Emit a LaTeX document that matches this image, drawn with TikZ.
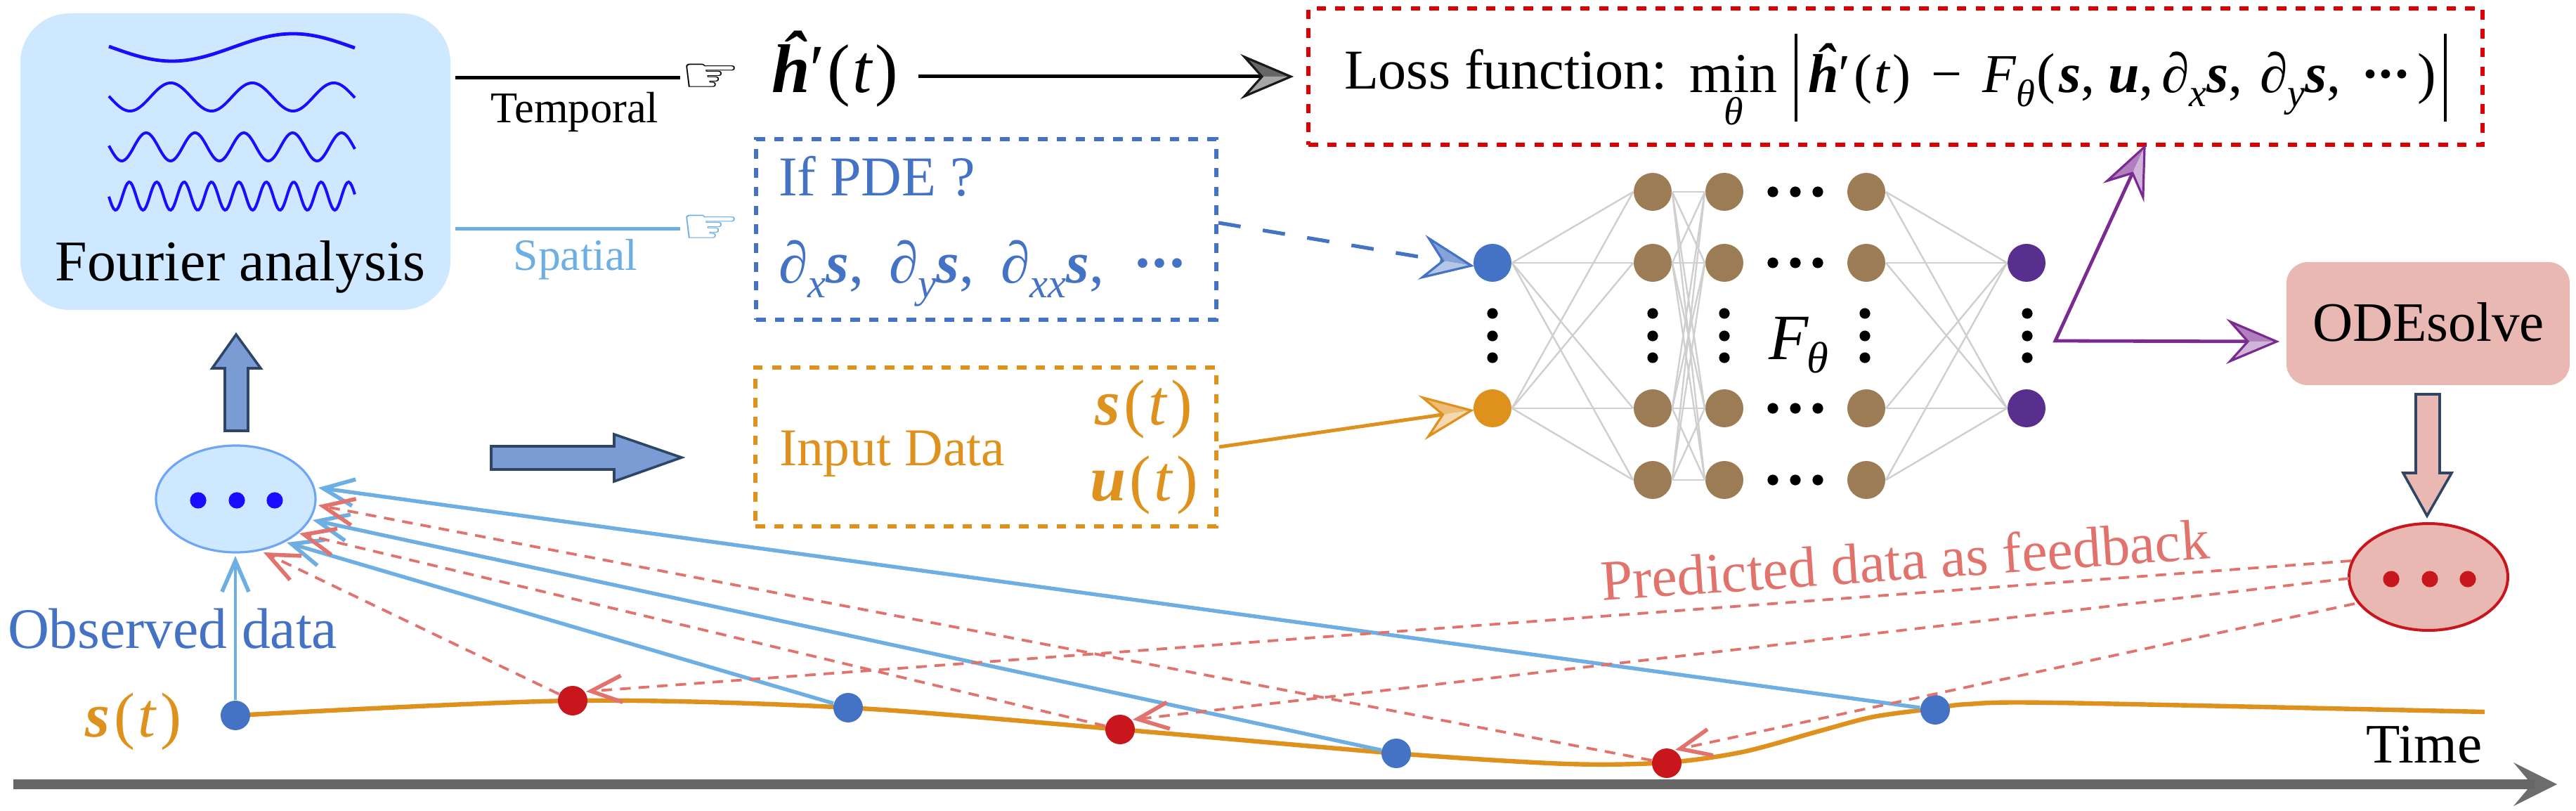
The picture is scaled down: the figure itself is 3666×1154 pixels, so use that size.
\documentclass[tikz,border=0pt]{standalone}
\usepackage{graphicx}
\usepackage{fontspec}
\setmainfont{Liberation Serif}
\newfontfamily\handfont{DejaVu Sans}
\usetikzlibrary{arrows.meta,calc,shapes.geometric}
\definecolor{cBlue}{HTML}{4472C4}
\definecolor{cOrange}{HTML}{DE911C}
\definecolor{cBrown}{HTML}{9C7C54}
\definecolor{cPurpleN}{HTML}{582E8E}
\definecolor{cPurple}{HTML}{7B2A92}
\definecolor{cSky}{HTML}{6DAEE3}
\definecolor{cPale}{HTML}{CDE8FF}
\definecolor{cEdgePale}{HTML}{6EA6F5}
\definecolor{cWave}{HTML}{1A0DFF}
\definecolor{cRed}{HTML}{C8161C}
\definecolor{cLossRed}{HTML}{DE0000}
\definecolor{cSalmon}{HTML}{E2736C}
\definecolor{cPink}{HTML}{EAB8B3}
\definecolor{cSlate}{HTML}{2F4565}
\definecolor{cBlockBlue}{HTML}{7A9BD3}
\definecolor{cGrey}{HTML}{CFCFCF}
\definecolor{cAxis}{HTML}{666666}
\newcommand\fz[1]{\fontsize{#1}{#1}\selectfont}
\newcommand\bi[1]{\textbf{\textit{#1}}}
\newcommand\sbs[1]{\raisebox{-.25em}{\scalebox{.7}{\itshape #1}}}
\newcommand\middots{\textbf{·\kern-.04em·\kern-.04em·}}
\newcommand\handglyph{\scalebox{1}[.74]{\resizebox{21.5pt}{!}{\handfont ☞}}}
% two-tone arrow head: from, tip, dark, light, outline
\newcommand\twotone[5]{%
  \coordinate (hb) at ($(#2)!16.5pt!(#1)$);
  \coordinate (hn) at ($(#2)!10.25pt!(#1)$);
  \coordinate (hl) at ($(hb)!7pt!90:(#2)$);
  \coordinate (hr) at ($(hb)!7pt!-90:(#2)$);
  \fill[#3] (#2) -- (hl) -- (hn) -- cycle;
  \fill[#4] (#2) -- (hr) -- (hn) -- cycle;
  \draw[#5,line width=.8pt,miter limit=10] (#2) -- (hl) -- (hn) -- (hr) -- cycle;
}
\tikzset{
  x=.25pt,y=-.25pt,
  txt/.style={inner sep=0,outer sep=0,anchor=base west},
  dbox/.style={rectangle,inner sep=0,line width=1.5pt,dash pattern=on 3.4pt off 3.3pt},
  nn/.style={circle,inner sep=0,minimum size=13.5pt,fill=#1},
  dotb/.style={circle,inner sep=0,minimum size=3.8pt,fill=black},
  dott/.style={circle,inner sep=0,minimum size=5.8pt,fill=#1},
  edge/.style={cGrey,line width=.6pt},
  wave/.style={cWave,line width=1pt,samples=160,domain=155:505},
  ptd/.style={circle,inner sep=0,minimum size=10.5pt,fill=#1},
  blk/.style={cSlate,line width=.9pt,line join=miter},
  obsline/.style={cSky,line width=1.35pt,-{Straight Barb[length=11pt,width=9.5pt,line width=1.4pt]}},
  predline/.style={cSalmon,line width=.95pt,dash pattern=on 3.8pt off 2.8pt,-{Straight Barb[length=11pt,width=9.5pt,line width=1.4pt]}},
}
\begin{document}
\begin{tikzpicture}
\useasboundingbox (0,0) rectangle (3666,1154);
\fill[white] (0,0) rectangle (3666,1154);

% ---- Fourier box
\node[rectangle,inner sep=0,fill=cPale,rounded corners=17.5pt,minimum width=153pt,minimum height=105.5pt] (fourier) at (335,230) {};
\draw[wave,line width=1.2pt] plot (\x,{67.5-19.5*cos((\x-417)/344*360)});
\draw[wave] plot (\x,{138-20*cos((\x-243)/116*360)});
\draw[wave] plot (\x,{209-20*cos((\x-208)/69.5*360)});
\draw[wave] plot (\x,{279-20*cos((\x-184)/39*360)});
\node[txt,anchor=base] (fourierlab) at (342,400) {\fz{20.5}Fourier analysis};

% ---- hands
\coordinate (tstart) at (648,111);
\node[txt,anchor=west] (hand1) at (968,111) {\handglyph};
\draw[black,line width=1.25pt] (tstart) -- (hand1.west);
\node[txt,anchor=base] (templab) at (818,175) {\fz{15.6}Temporal};
\coordinate (sstart) at (648,326);
\node[txt,anchor=west,cSky] (hand2) at (968,326) {\handglyph};
\draw[cSky,line width=1.25pt] (sstart) -- (hand2.west);
\node[txt,anchor=base,cSky] (spatlab) at (819,385) {\fz{15.9}Spatial};

% ---- h'(t)
\node[txt] (hp) at (1098,132) {\fz{24.5}\bi{ĥ}′\kern.04em(\kern.03em\textit{t}\kern.03em)};
\coordinate (hpout) at (1307,109);
\coordinate (losstip) at (1837,109);
\draw[black,line width=1.25pt] (hpout) -- ($(losstip)!8pt!(hpout)$);
\twotone{hpout}{losstip}{cAxis}{black!35}{black!90}

% ---- Loss box
\node[dbox,draw=cLossRed,minimum width=417.75pt,minimum height=48.5pt] (loss) at (2697.5,109) {};
\node[txt] (losslab) at (1913,127) {\fz{20}Loss function:};
\node[txt,anchor=base] (minlab) at (2467,132) {\fz{20}min};
\node[txt,anchor=base] (minth) at (2467,178) {\fz{14}\textit{θ}};
\coordinate (barLt) at (2556,48); \coordinate (barLb) at (2556,173);
\coordinate (barRt) at (3480,48); \coordinate (barRb) at (3480,173);
\draw[black,line width=1pt] (barLt) -- (barLb);
\draw[black,line width=1pt] (barRt) -- (barRb);
\node[txt] (ex1) at (2573,132) {\fz{19.5}\bi{ĥ}′\kern.06em(\kern.04em\textit{t}\kern.04em)};
\node[txt] (ex2) at (2748,132) {\fz{19.5}−};
\node[txt] (ex3) at (2821,132) {\fz{19.5}\textit{F}\sbs{θ}};
\node[txt] (ex4) at (2898,132) {\fz{20}(};
\node[txt] (ex5a) at (2930,132) {\fz{20}\bi{s},};
\node[txt] (ex5b) at (3000,132) {\fz{20}\bi{u},};
\node[txt] (ex5c) at (3076,132) {\fz{20}\textit{∂}\sbs{x}\bi{s},};
\node[txt] (ex5d) at (3216,132) {\fz{20}\textit{∂}\sbs{y}\bi{s},};
\node[txt] (ex6) at (3360,132) {\fz{19.5}\middots};
\node[txt] (ex7) at (3440,132) {\fz{20})};

% ---- PDE box
\node[dbox,draw=cBlue,minimum width=163.75pt,minimum height=64.25pt] (pde) at (1403.5,326.5) {};
\node[txt,cBlue] (pde1) at (1108,279) {\fz{20}If PDE ?};
\node[txt,cBlue] (pde2a) at (1108,403) {\fz{21}\textit{∂}\sbs{x}\bi{s},};
\node[txt,cBlue] (pde2b) at (1265,403) {\fz{21}\textit{∂}\sbs{y}\bi{s},};
\node[txt,cBlue] (pde2c) at (1424,403) {\fz{21}\textit{∂}\sbs{xx}\bi{s},};
\node[txt,cBlue] (pde2d) at (1612,403) {\fz{21}\middots};

% ---- Input box
\node[dbox,draw=cOrange,minimum width=164pt,minimum height=56.5pt] (input) at (1403,636) {};
\node[txt,cOrange] (inlab) at (1109,663) {\fz{18.9}Input Data};
\node[txt,cOrange] (ins) at (1558,605) {\fz{23}\bi{s}\kern.06em(\kern.05em\textit{t}\kern.05em)};
\node[txt,cOrange] (inu) at (1551,713) {\fz{23}\bi{u}\kern.06em(\kern.05em\textit{t}\kern.05em)};

% ---- Network
\node[nn=cBlue] (i1) at (2124,374) {};
\node[nn=cOrange] (i2) at (2124,581) {};
\foreach \c/\xx in {a/2352,b/2454,c/2656}
  \foreach \r/\yy in {1/273,2/374,3/581,4/683}
    \node[nn=cBrown] (\c\r) at (\xx,\yy) {};
\node[nn=cPurpleN] (o1) at (2884,374) {};
\node[nn=cPurpleN] (o2) at (2884,581) {};
\foreach \r/\yy in {1/273,2/374,3/581,4/683}
  \foreach \i/\xx in {1/2523,2/2555,3/2587}
    \node[dotb] (dh\r\i) at (\xx,\yy) {};
\foreach \c/\xx in {1/2124,2/2352,3/2454,4/2654,5/2885}
  \foreach \i/\yy in {1/446,2/478,3/509}
    \node[dotb] (dv\c\i) at (\xx,\yy) {};
\foreach \r in {1,2,3,4} {
  \draw[edge] (i1.east) -- (a\r.west);
  \draw[edge] (i2.east) -- (a\r.west);
  \draw[edge] (c\r.east) -- (o1.west);
  \draw[edge] (c\r.east) -- (o2.west);
  \foreach \s in {1,2,3,4} \draw[edge] (a\r.east) -- (b\s.west);
}
\node[txt] (ftheta) at (2517,512) {\fz{23}\textit{F}\kern-.03em\raisebox{-.2em}{\scalebox{.68}{\itshape θ}}};

% ---- arrows into the network
\coordinate (pdeout) at (1734,317);
\coordinate (pdetip) at (2094,378);
\draw[cBlue,line width=1.3pt,dash pattern=on 8pt off 8pt] (pdeout) -- ($(pdetip)!9pt!(pdeout)$);
\twotone{pdeout}{pdetip}{cBlue!65}{cBlue!40}{cBlue}
\coordinate (inout) at (1735,636);
\coordinate (intip) at (2094,584);
\draw[cOrange,line width=1.25pt] (inout) -- ($(intip)!9pt!(inout)$);
\twotone{inout}{intip}{cOrange!60}{cOrange!35}{cOrange}

% ---- outputs
\coordinate (outp) at (2925,485);
\coordinate (uptip) at (3052,209);
\coordinate (odetip) at (3240,486);
\draw[cPurple,line width=1.2pt,line join=miter] ($(uptip)!9pt!(outp)$) -- (outp) -- ($(odetip)!9pt!(outp)$);
\twotone{outp}{uptip}{cPurple!60}{cPurple!35}{cPurple}
\twotone{outp}{odetip}{cPurple!60}{cPurple!35}{cPurple}

% ---- ODE solve
\node[rectangle,inner sep=0,fill=cPink,rounded corners=7.5pt,minimum width=100.75pt,minimum height=43.75pt] (ode) at (3455.5,460.5) {};
\node[txt,anchor=base] (odelab) at (3456,486) {\fz{19.8}ODEsolve};
\draw[blk,fill=cPink] (3438,561) -- (3472,561) -- (3472,673) -- (3489,673) -- (3454,734) -- (3420,673) -- (3438,673) -- cycle;
\node[ellipse,inner sep=0,draw=cRed,line width=1pt,fill=cPink,minimum width=56.5pt,minimum height=38pt] (bigred) at (3456,821) {};
\foreach \i/\xx in {1/3403,2/3458,3/3512} \node[dott=cRed] (rd\i) at (\xx,824) {};

% ---- blue block arrows & observed ellipse
\draw[blk,fill=cBlockBlue] (320,613) -- (353,613) -- (353,524) -- (371,524) -- (336,476) -- (302,524) -- (320,524) -- cycle;
\draw[blk,fill=cBlockBlue] (699,635) -- (874,635) -- (874,618) -- (970,651) -- (874,685) -- (874,668) -- (699,668) -- cycle;
\node[ellipse,inner sep=0,draw=cEdgePale,line width=.8pt,fill=cPale,minimum width=56.75pt,minimum height=38pt] (obsell) at (335.5,710) {};
\foreach \i/\xx in {1/282,2/337,3/391} \node[dott=cWave] (bd\i) at (\xx,712) {};

% ---- time axis
\coordinate (tax0) at (19,1116);
\coordinate (tax1) at (3639,1116);
\draw[cAxis,line width=3.3pt] (tax0) -- (3607,1116);
\coordinate (tw1) at (3577,1085); \coordinate (tw2) at (3577,1147); \coordinate (tn) at (3603,1116);
\fill[cAxis,fill opacity=.95] (tax1) -- (tw1) -- (tn) -- (tw2) -- cycle;
\node[txt,anchor=base] (timelab) at (3450,1085) {\fz{19.8}Time};

% ---- curve
\coordinate (p1) at (335,1018); \coordinate (p2) at (815,997);
\coordinate (p3) at (1207,1007); \coordinate (p4) at (1594,1038);
\coordinate (p5) at (1987,1072); \coordinate (p6) at (2372,1085);
\coordinate (p7) at (2754,1008); \coordinate (p8) at (3536,1013);
\draw[cOrange,line width=1.6pt] plot[smooth,tension=.5] coordinates {(p1) (p2) (p3) (p4) (p5) (2230,1087) (p6) (2480,1070) (2590,1040) (2666,1020) (p7) (2800,1002) (2925,1000) (p8)};
\node[ptd=cBlue] (obs1) at (p1) {};
\node[ptd=cRed] (pred1) at (815,997) {};
\node[ptd=cBlue] (obs2) at (p3) {};
\node[ptd=cRed] (pred2) at (p4) {};
\node[ptd=cBlue] (obs3) at (p5) {};
\node[ptd=cRed] (pred3) at (2372,1086) {};
\node[ptd=cBlue] (obs4) at (2754,1010) {};

% ---- observed arrows
\coordinate (t0) at (335,791);
\coordinate (t1) at (453,694); \coordinate (t2) at (445,740); \coordinate (t3) at (408,772);
\draw[obsline,line width=.95pt] (obs1) -- (t0);
\draw[obsline] (obs2) -- (t3);
\draw[obsline] (obs3) -- (t2);
\draw[obsline] (obs4) -- (t1);
% ---- predicted arrows back to the ellipse
\coordinate (r1) at (375,786); \coordinate (r2) at (426,759); \coordinate (r3) at (453,719);
\draw[predline] (pred1) -- (r1);
\draw[predline] (pred2) -- (r2);
\draw[predline] (pred3) -- (r3);
% ---- feedback arrows
\coordinate (fb1) at (3346,798); \coordinate (fb2) at (3343,823); \coordinate (fb3) at (3351,859);
\coordinate (ft1) at (834,984); \coordinate (ft2) at (1612,1024); \coordinate (ft3) at (2384,1067);
\draw[predline] (fb1) -- (ft1);
\draw[predline] (fb2) -- (ft2);
\draw[predline] (fb3) -- (ft3);

% ---- labels
\node[txt,cBlue] (obslab) at (11,922) {\fz{20.4}Observed data};
\node[txt,cOrange] (slab) at (122,1048) {\fz{22.5}\bi{s}\kern.06em(\kern.05em\textit{t}\kern.05em)};
\node[txt,cSalmon,rotate=3.96] (fblab) at (2280,855) {\fz{20.4}Predicted data as feedback};
\end{tikzpicture}
\end{document}
